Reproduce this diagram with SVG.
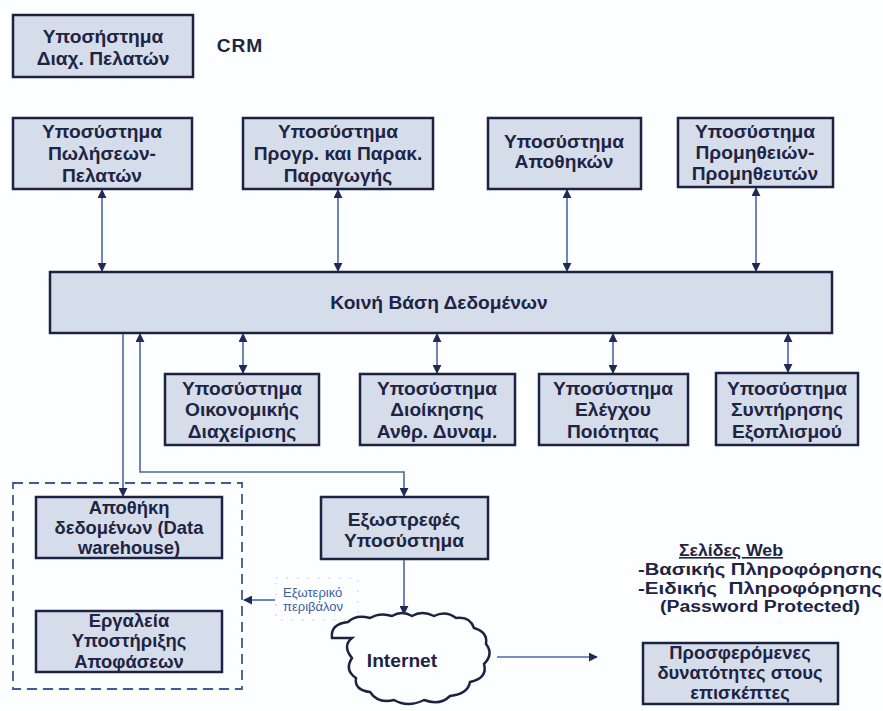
<svg xmlns="http://www.w3.org/2000/svg" width="883" height="711" viewBox="0 0 883 711">
  <defs>
    <marker id="arr" viewBox="0 0 10 10" refX="9" refY="5" markerWidth="9" markerHeight="9" markerUnits="userSpaceOnUse" orient="auto-start-reverse">
      <path d="M0,0 L10,5 L0,10 z" fill="#1f2b55"/>
    </marker>
    <style>
      .box { fill: #d5ddeb; stroke: #1c2342; stroke-width: 2.5; }
      .t { font-family: "Liberation Sans", Arial, sans-serif; font-size: 19.2px; font-weight: bold; fill: #1e2444; text-anchor: middle; }
      .s { font-size: 18.4px; }
      .w { font-size: 16px; }
      .c { fill: none; stroke: #4a67a6; stroke-width: 1.6; }
      .ext { font-family: "Liberation Sans", Arial, sans-serif; font-size: 13px; fill: #3b5da3; }
    </style>
  </defs>
  <rect width="883" height="711" fill="#fdfeff"/>

  <!-- CRM -->
  <g id="crm">
    <rect class="box" x="13" y="15" width="180" height="62"/>
    <text class="t" x="103" y="43">Υποσήστημα</text>
    <text class="t" x="103" y="65">Διαχ. Πελατών</text>
  </g>
  <text class="t" x="240" y="52" font-size="20" letter-spacing="1">CRM</text>

  <!-- top row -->
  <g id="sales">
    <rect class="box" x="13" y="118" width="179" height="71"/>
    <text class="t" x="102" y="138">Υποσύστημα</text>
    <text class="t" x="102" y="160">Πωλήσεων-</text>
    <text class="t" x="102" y="182">Πελατών</text>
  </g>
  <g id="production">
    <rect class="box" x="243" y="118" width="190" height="71"/>
    <text class="t" x="338" y="138">Υποσύστημα</text>
    <text class="t" x="338" y="160">Προγρ. και Παρακ.</text>
    <text class="t" x="338" y="182">Παραγωγής</text>
  </g>
  <g id="warehouses">
    <rect class="box" x="488" y="118" width="153" height="71"/>
    <text class="t" x="564" y="148">Υποσύστημα</text>
    <text class="t" x="564" y="168">Αποθηκών</text>
  </g>
  <g id="supply">
    <rect class="box" x="678" y="118" width="155" height="69"/>
    <text class="t" x="755" y="138">Υποσύστημα</text>
    <text class="t" x="755" y="159">Προμηθειών-</text>
    <text class="t" x="755" y="180">Προμηθευτών</text>
  </g>

  <!-- shared database -->
  <g id="database">
    <rect class="box" x="50" y="272" width="782" height="61" fill="#d8e0ee"/>
    <text class="t" x="439" y="309">Κοινή Βάση Δεδομένων</text>
  </g>

  <!-- second row -->
  <g id="finance">
    <rect class="box" x="165" y="374" width="154" height="71"/>
    <text class="t" x="242" y="395">Υποσύστημα</text>
    <text class="t" x="242" y="416">Οικονομικής</text>
    <text class="t" x="242" y="438">Διαχείρισης</text>
  </g>
  <g id="hr">
    <rect class="box" x="360" y="374" width="155" height="71"/>
    <text class="t" x="437" y="395">Υποσύστημα</text>
    <text class="t" x="437" y="416">Διοίκησης</text>
    <text class="t" x="437" y="438">Ανθρ. Δυναμ.</text>
  </g>
  <g id="quality">
    <rect class="box" x="539" y="374" width="149" height="71"/>
    <text class="t" x="613" y="395">Υποσύστημα</text>
    <text class="t" x="613" y="416">Ελέγχου</text>
    <text class="t" x="613" y="438">Ποιότητας</text>
  </g>
  <g id="maintenance">
    <rect class="box" x="716" y="373" width="142" height="72"/>
    <text class="t" x="787" y="395">Υποσύστημα</text>
    <text class="t" x="787" y="416">Συντήρησης</text>
    <text class="t" x="787" y="438">Εξοπλισμού</text>
  </g>

  <!-- decision support area -->
  <g id="internal-env">
    <rect x="13" y="483" width="229" height="206" fill="none" stroke="#3f5a96" stroke-width="1.8" stroke-dasharray="10,6"/>
  </g>
  <g id="datawarehouse">
    <rect class="box" x="36" y="497" width="186" height="61"/>
    <text class="t s" x="129" y="514">Αποθήκη</text>
    <text class="t s" x="129" y="534">δεδομένων (Data</text>
    <text class="t s" x="129" y="554">warehouse)</text>
  </g>
  <g id="dss">
    <rect class="box" x="36" y="611" width="186" height="61"/>
    <text class="t s" x="129" y="627">Εργαλεία</text>
    <text class="t s" x="129" y="647">Υποστήριξης</text>
    <text class="t s" x="129" y="668">Αποφάσεων</text>
  </g>

  <!-- external environment label -->
  <g id="external-env">
    <rect x="276" y="578" width="82" height="42" fill="none" stroke="#b9c3d8" stroke-width="1" stroke-dasharray="1.5,9"/>
    <text class="ext" x="283" y="597">Εξωτερικό</text>
    <text class="ext" x="283" y="611">περιβάλον</text>
  </g>

  <!-- outward facing subsystem -->
  <g id="outward">
    <rect class="box" x="321" y="497" width="167" height="62"/>
    <text class="t" x="404" y="526">Εξωστρεφές</text>
    <text class="t" x="404" y="547">Υποσύστημα</text>
  </g>

  <!-- internet cloud -->
  <g id="internet">
    <path d="M332,638 q-2,-14 16,-16 q8,-8 22,-4 q10,-6 22,-2 q10,-6 20,0 q10,-6 22,0 q12,-6 22,2 q14,-2 18,10 q14,4 12,16 q8,10 -2,20 q4,14 -14,18 q-2,12 -20,14 q-10,10 -26,4 q-16,8 -30,0 q-16,4 -24,-8 q-16,-2 -14,-14 q-12,-8 -4,-20 q-10,-12 0,-20 z" fill="#fdfeff" stroke="#1c2342" stroke-width="2.5"/>
    <text class="t" x="402" y="667">Internet</text>
  </g>

  <!-- web pages -->
  <g id="web-pages">
    <text class="t w" x="731" y="556" text-decoration="underline" textLength="104" lengthAdjust="spacingAndGlyphs">Σελίδες Web</text>
    <text class="t w" x="760" y="575" textLength="244" lengthAdjust="spacingAndGlyphs">-Βασικής Πληροφόρησης</text>
    <text class="t w" x="760" y="593.5" xml:space="preserve" textLength="244" lengthAdjust="spacingAndGlyphs">-Ειδικής  Πληροφόρησης</text>
    <text class="t w" x="760" y="612" textLength="200" lengthAdjust="spacingAndGlyphs">(Password Protected)</text>
  </g>
  <g id="visitor-features">
    <rect class="box" x="643" y="643" width="195" height="61" fill="#dde4f0"/>
    <text class="t s" x="740" y="659">Προσφερόμενες</text>
    <text class="t s" x="740" y="679">δυνατότητες στους</text>
    <text class="t s" x="740" y="699">επισκέπτες</text>
  </g>

  <!-- connectors -->
  <g id="connectors">
    <line class="c" x1="102" y1="190" x2="102" y2="271" marker-start="url(#arr)" marker-end="url(#arr)"/>
    <line class="c" x1="338" y1="190" x2="338" y2="271" marker-start="url(#arr)" marker-end="url(#arr)"/>
    <line class="c" x1="567" y1="190" x2="567" y2="271" marker-start="url(#arr)" marker-end="url(#arr)"/>
    <line class="c" x1="756" y1="188" x2="756" y2="271" marker-start="url(#arr)" marker-end="url(#arr)"/>

    <line class="c" x1="243" y1="334" x2="243" y2="373" marker-start="url(#arr)" marker-end="url(#arr)"/>
    <line class="c" x1="437" y1="334" x2="437" y2="373" marker-start="url(#arr)" marker-end="url(#arr)"/>
    <line class="c" x1="613" y1="334" x2="613" y2="373" marker-start="url(#arr)" marker-end="url(#arr)"/>
    <line class="c" x1="788" y1="334" x2="788" y2="372" marker-start="url(#arr)" marker-end="url(#arr)"/>

    <line class="c" x1="123" y1="334" x2="123" y2="496" marker-end="url(#arr)"/>
    <polyline class="c" points="140,334 140,472 404,472 404,496" marker-start="url(#arr)" marker-end="url(#arr)"/>
    <line class="c" x1="404" y1="560" x2="404" y2="614" marker-end="url(#arr)"/>
    <line class="c" x1="497" y1="657" x2="597" y2="657" marker-end="url(#arr)"/>
    <line class="c" x1="275" y1="600" x2="244" y2="600" marker-end="url(#arr)"/>
  </g>
</svg>
